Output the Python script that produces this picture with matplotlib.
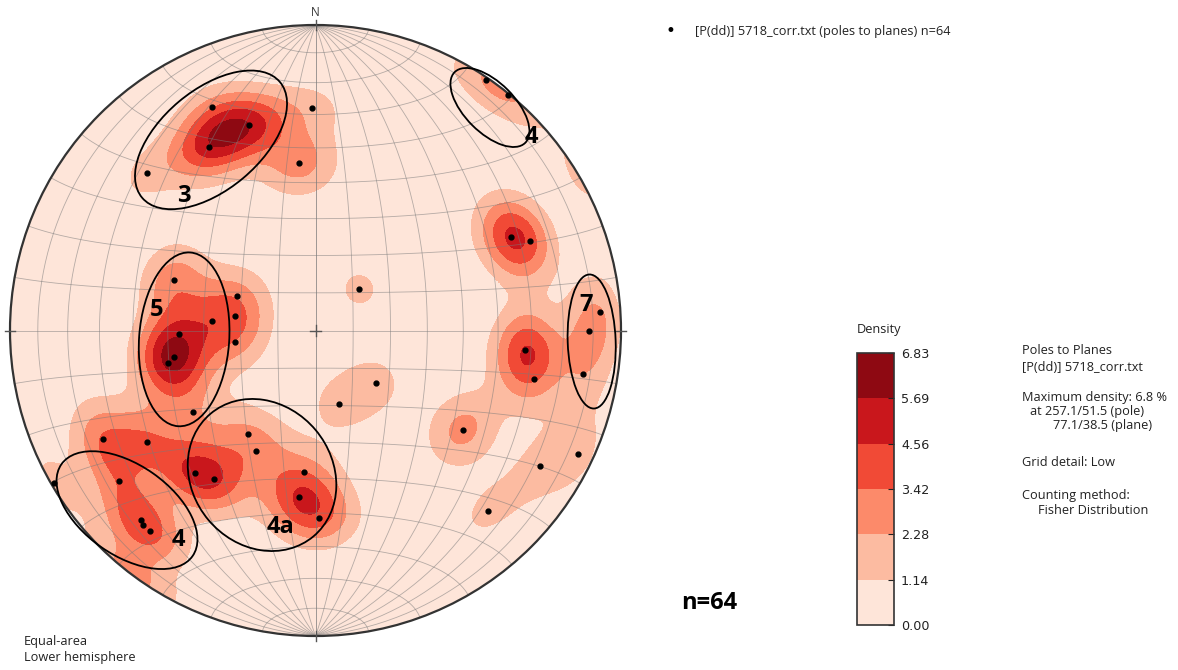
import numpy as np
import matplotlib
matplotlib.use('Agg')
import matplotlib.pyplot as plt
from matplotlib.patches import Circle, Ellipse

# Poles to planes (trend / plunge, degrees), count = how many poles share a spot
pole_trend = [335.1, 342.1, 330.0, 313.0, 359.0, 354.4, 34.2, 39.2, 64.5, 67.3,
              46.5, 86.2, 90.1, 99.3, 95.3, 102.4, 289.6, 293.8, 280.2, 275.2,
              268.7, 262.1, 259.5, 257.5, 236.4, 131.1, 162.3, 124.0, 115.2, 121.1,
              136.2, 242.9, 236.6, 239.8, 232.5, 222.6, 221.6, 219.5, 213.2, 206.2,
              220.3, 214.3, 184.6, 185.7, 178.8]
pole_plunge = [20.4, 30.0, 31.1, 25.5, 28.1, 44.2, 0.9, 0.5, 29.9, 24.8,
               73.9, 7.4, 11.6, 12.4, 31.7, 27.5, 49.3, 67.2, 68.3, 62.2,
               53.2, 68.3, 51.1, 49.0, 50.1, 68.6, 69.4, 41.5, 5.5, 15.4,
               19.4, 23.0, 34.2, 1.2, 20.0, 16.9, 15.9, 15.9, 56.7, 53.7,
               38.8, 40.7, 51.6, 44.5, 38.5]
pole_count = [1, 3, 3, 1, 1, 2, 1, 1, 3, 1,
              1, 1, 1, 1, 3, 1, 2, 1, 1, 1,
              1, 1, 2, 2, 1, 1, 1, 2, 1, 1,
              1, 2, 2, 1, 1, 1, 1, 1, 1, 1,
              2, 2, 1, 2, 2]

levels = [0.00, 1.14, 2.28, 3.42, 4.56, 5.69, 6.83]
band_colors = ['#fee5d9', '#fcbba1', '#fc8a6a', '#f14a36', '#c9171c', '#8e0912']
FISHER_K = 70.0
PCT_PER_POLE = 1.3   # peak % of a single isolated pole on this net

# hand drawn set outlines (centre x, centre y, width, height, angle) in net units
set_ellipses = [(-0.342, 0.624, 0.589, 0.327, 40),
                (0.571, 0.730, 0.327, 0.164, -45),
                (-0.430, -0.029, 0.570, 0.295, 86),
                (0.904, -0.036, 0.439, 0.157, 92),
                (-0.617, -0.588, 0.524, 0.295, -35),
                (-0.175, -0.473, 0.524, 0.458, -50)]
set_labels = [('3', -0.430, 0.440), ('4', 0.705, 0.633), ('5', -0.519, 0.067),
              ('7', 0.885, 0.083), ('4', -0.450, -0.686), ('4a', -0.116, -0.643)]


def to_vec(trend, plunge):
    t = np.radians(trend)
    p = np.radians(plunge)
    return np.cos(p) * np.cos(t), np.cos(p) * np.sin(t), np.sin(p)


def project(n, e, d):
    # Lambert equal-area, lower hemisphere
    s = 1.0 / np.sqrt(1.0 + d)
    return e * s, n * s


fig = plt.figure(figsize=(11.78, 6.70), dpi=100)
lim = 315 / 305.5
ax = fig.add_axes([0.5 / 1178, 24.5 / 670, 630 / 1178, 630 / 670])
ax.set_xlim(-lim, lim)
ax.set_ylim(-lim, lim)
ax.set_aspect('equal')
ax.axis('off')

# density grid (Fisher kernel, axial data)
g = np.linspace(-1.0, 1.0, 261)
GX, GY = np.meshgrid(g, g)
rr = np.hypot(GX, GY)
sc = np.where(rr > 1, 1 / np.maximum(rr, 1e-9), 1.0)
gx, gy = GX * sc, GY * sc
gd = np.clip(1 - (gx ** 2 + gy ** 2), 0, 1)
gs = np.sqrt(1 + gd)
gn, ge = gy * gs, gx * gs
pn, pe, pd = to_vec(np.array(pole_trend), np.array(pole_plunge))
w = np.array(pole_count, dtype=float)
cosang = np.abs(gn[..., None] * pn + ge[..., None] * pe + gd[..., None] * pd)
dens = PCT_PER_POLE * (w * np.exp(FISHER_K * (cosang - 1))).sum(-1)

base = Circle((0, 0), 1, facecolor=band_colors[0], edgecolor='none', zorder=0)
ax.add_patch(base)
cs = ax.contourf(GX, GY, np.clip(dens, 0, 6.829), levels=levels, colors=band_colors, zorder=1)
cs.set_clip_path(base)

# equal-area net, 10 degree spacing
t = np.linspace(0, np.pi, 181)
grid_kw = dict(color='#7a7a7a', lw=0.6, alpha=0.55, zorder=2)
for dip in range(10, 91, 10):
    dr = np.radians(dip)
    for sgn in (1, -1):
        n = np.cos(t)
        e = sgn * np.sin(t) * np.cos(dr)
        d = np.sin(t) * np.sin(dr)
        xx, yy = project(n, e, d)
        ax.plot(xx, yy, **grid_kw)
for a in range(10, 171, 10):
    ar = np.radians(a)
    n = np.full_like(t, np.cos(ar))
    e = np.sin(ar) * np.cos(t)
    d = np.sin(ar) * np.sin(t)
    xx, yy = project(n, e, d)
    ax.plot(xx, yy, **grid_kw)

ax.add_patch(Circle((0, 0), 1, facecolor='none', edgecolor='#333333', lw=1.6, zorder=4))
# cardinal ticks and centre cross
tk = 0.018
ax.plot([0, 0], [1 - tk, 1 + tk], color='#555555', lw=1, zorder=4)
ax.plot([0, 0], [-1 - tk, -1 + tk], color='#555555', lw=1, zorder=4)
ax.plot([1 - tk, 1 + tk], [0, 0], color='#555555', lw=1, zorder=4)
ax.plot([-1 - tk, -1 + tk], [0, 0], color='#555555', lw=1, zorder=4)
ax.plot([-tk, tk], [0, 0], color='#555555', lw=1, zorder=4)
ax.plot([0, 0], [-tk, tk], color='#555555', lw=1, zorder=4)
ax.text(0, 1.04, 'N', ha='center', va='center', fontsize=8.5, color='#333333',
        family='Open Sans', clip_on=False)

for cx, cy, ew, eh, ang in set_ellipses:
    ax.add_patch(Ellipse((cx, cy), ew, eh, angle=ang, facecolor='none',
                         edgecolor='black', lw=1.3, zorder=5))
for lab, lx, ly in set_labels:
    ax.text(lx, ly, lab, ha='center', va='center', fontsize=17, fontweight='bold',
            family='Open Sans', zorder=6)

px_, py_ = project(pn, pe, pd)
ax.plot(px_, py_, 'o', color='black', ms=3.5, zorder=6)

txt = dict(family='Open Sans', color='#222222', fontsize=9.2, va='center')

# legend line at top
fig.text(670 / 1178, 1 - 31 / 670, '\u2022', ha='center', va='center', fontsize=12)
fig.text(695 / 1178, 1 - 31 / 670, '[P(dd)] 5718_corr.txt (poles to planes) n=64',
         ha='left', **txt)

fig.text(24 / 1178, 1 - 642 / 670, 'Equal-area', ha='left', **txt)
fig.text(24 / 1178, 1 - 658 / 670, 'Lower hemisphere', ha='left', **txt)

fig.text(709 / 1178, 1 - 603 / 670, 'n=64', ha='center', va='center', fontsize=17,
         fontweight='bold', family='Open Sans')

# colour bar
cax = fig.add_axes([857 / 1178, 45 / 670, 37 / 1178, 272 / 670])
cb = fig.colorbar(cs, cax=cax)
cb.set_ticks(levels)
cb.set_ticklabels([f'{v:.2f}' for v in levels])
cax.tick_params(direction='in', length=4, width=0.8, labelsize=9.2, pad=5, colors='#222222')
cb.outline.set_edgecolor('#333333')
cb.outline.set_linewidth(1.2)
fig.text(857 / 1178, 1 - 330 / 670, 'Density', ha='left', **txt)

info = [('Poles to Planes', 1022, 351),
        ('[P(dd)] 5718_corr.txt', 1022, 367),
        ('Maximum density: 6.8 %', 1022, 398),
        ('at 257.1/51.5 (pole)', 1030, 412),
        ('77.1/38.5 (plane)', 1053, 426),
        ('Grid detail: Low', 1022, 463),
        ('Counting method:', 1022, 495),
        ('Fisher Distribution', 1038, 510)]
for s, xp, yp in info:
    fig.text(xp / 1178, 1 - yp / 670, s, ha='left', **txt)

fig.savefig('out.png', dpi=100)
